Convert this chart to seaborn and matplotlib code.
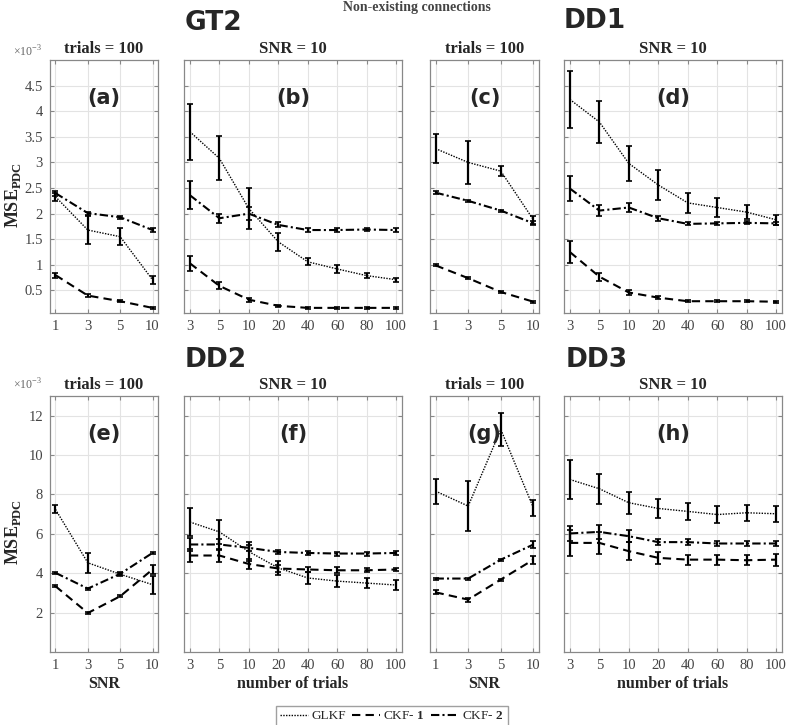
import numpy as np
import pandas as pd
import matplotlib
matplotlib.use("Agg")
import matplotlib.pyplot as plt
import seaborn as sns
from matplotlib.lines import Line2D

snr_levels = ["1", "3", "5", "10"]
trial_levels = ["3", "5", "10", "20", "40", "60", "80", "100"]
methods = ["GLKF", "CKF-1", "CKF-2"]

# rows: GLKF, CKF-1, CKF-2 ; values in units of 1e-3
# GT2
a_mean = [[2.33, 1.68, 1.55, 0.71], [0.80, 0.40, 0.29, 0.16], [2.40, 2.01, 1.93, 1.68]]
a_err = [[0.08, 0.28, 0.17, 0.08], [0.05, 0.03, 0.02, 0.02], [0.05, 0.03, 0.03, 0.03]]
b_mean = [[3.60, 3.08, 2.10, 1.45, 1.06, 0.92, 0.79, 0.71],
          [1.03, 0.59, 0.32, 0.20, 0.16, 0.16, 0.16, 0.16],
          [2.36, 1.91, 2.00, 1.78, 1.68, 1.68, 1.69, 1.68]]
b_err = [[0.55, 0.43, 0.40, 0.18, 0.07, 0.07, 0.05, 0.04],
         [0.15, 0.07, 0.04, 0.02, 0.02, 0.02, 0.02, 0.02],
         [0.27, 0.09, 0.12, 0.05, 0.03, 0.03, 0.03, 0.03]]
# DD1
c_mean = [[3.27, 3.00, 2.83, 1.88], [0.99, 0.74, 0.47, 0.28], [2.41, 2.25, 2.06, 1.81]]
c_err = [[0.29, 0.42, 0.10, 0.08], [0.02, 0.02, 0.02, 0.02], [0.03, 0.02, 0.02, 0.04]]
d_mean = [[4.23, 3.79, 2.98, 2.56, 2.21, 2.12, 2.03, 1.88],
          [1.25, 0.77, 0.46, 0.36, 0.29, 0.29, 0.29, 0.28],
          [2.49, 2.06, 2.12, 1.91, 1.80, 1.81, 1.82, 1.81]]
d_err = [[0.56, 0.41, 0.34, 0.29, 0.20, 0.18, 0.13, 0.10],
         [0.22, 0.08, 0.04, 0.03, 0.02, 0.02, 0.02, 0.02],
         [0.25, 0.10, 0.08, 0.05, 0.03, 0.03, 0.03, 0.03]]
# DD2
e_mean = [[7.24, 4.53, 3.95, 3.42], [3.34, 1.98, 2.83, 4.19], [4.02, 3.22, 3.97, 5.03]]
e_err = [[0.20, 0.50, 0.05, 0.45], [0.05, 0.05, 0.05, 0.25], [0.05, 0.05, 0.10, 0.05]]
f_mean = [[6.60, 6.10, 5.10, 4.27, 3.76, 3.60, 3.50, 3.40],
          [4.90, 4.90, 4.47, 4.24, 4.19, 4.15, 4.15, 4.19],
          [5.46, 5.46, 5.29, 5.08, 5.03, 5.00, 5.00, 5.03]]
f_err = [[0.70, 0.60, 0.50, 0.35, 0.30, 0.30, 0.25, 0.25],
         [0.35, 0.35, 0.25, 0.20, 0.15, 0.15, 0.10, 0.10],
         [0.35, 0.30, 0.15, 0.10, 0.10, 0.10, 0.10, 0.10]]
# DD3
g_mean = [[8.17, 7.41, 11.30, 7.32], [3.03, 2.66, 3.68, 4.69], [3.73, 3.73, 4.69, 5.46]]
g_err = [[0.63, 1.26, 0.85, 0.40], [0.10, 0.10, 0.05, 0.20], [0.05, 0.05, 0.05, 0.20]]
h_mean = [[8.76, 8.29, 7.58, 7.29, 7.14, 6.98, 7.07, 7.02],
          [5.54, 5.54, 5.12, 4.78, 4.69, 4.69, 4.66, 4.69],
          [6.02, 6.10, 5.88, 5.58, 5.58, 5.51, 5.51, 5.51]]
h_err = [[0.97, 0.75, 0.55, 0.50, 0.45, 0.45, 0.40, 0.40],
         [0.65, 0.55, 0.45, 0.30, 0.25, 0.25, 0.25, 0.30],
         [0.40, 0.35, 0.30, 0.15, 0.15, 0.15, 0.15, 0.15]]

line_styles = {"GLKF": ((0, (1, 1)), 1.0),
               "CKF-1": ((0, (4, 2.5)), 1.5),
               "CKF-2": ((0, (4, 1.5, 1, 1.5)), 1.5)}

sns.set_style("ticks")
plt.rcParams["font.family"] = ["Liberation Serif", "DejaVu Serif"]
plt.rcParams["mathtext.fontset"] = "custom"
plt.rcParams["mathtext.rm"] = "Liberation Serif"
plt.rcParams["mathtext.bf"] = "Liberation Serif:bold"

W, H = 787, 725
fig = plt.figure(figsize=(W / 100, H / 100), dpi=100)


def box(x0, x1, y0, y1):
    return [x0 / W, 1 - y1 / H, (x1 - x0) / W, (y1 - y0) / H]


def draw_panel(rect, levels, means, errs, ylim, yticks, show_y, letter, title, xlabel):
    ax = fig.add_axes(rect)
    x = np.arange(1, len(levels) + 1)
    for m, name in enumerate(methods):
        ls, lw = line_styles[name]
        df = pd.DataFrame({"x": x, "y": means[m]})
        sns.lineplot(data=df, x="x", y="y", ax=ax, color="k", linestyle=ls, lw=lw)
        ax.errorbar(x, means[m], yerr=errs[m], fmt="none", ecolor="k",
                    elinewidth=1.6, capsize=2, capthick=1.2)
    pad = 0.17 if len(levels) == 4 else 0.2
    ax.set_xlim(1 - pad, len(levels) + pad)
    ax.set_ylim(*ylim)
    ax.set_xticks(x)
    ax.set_xticklabels(levels)
    ax.set_yticks(yticks)
    if show_y:
        ax.set_yticklabels([f"{t:g}" for t in yticks])
    else:
        ax.set_yticklabels([])
    ax.grid(True, color="#e3e3e3", lw=0.8)
    ax.set_axisbelow(True)
    for s in ax.spines.values():
        s.set_color("#888888")
        s.set_linewidth(0.9)
    ax.tick_params(direction="in", top=True, right=True, length=3,
                   color="#888888", labelcolor="#444444", labelsize=10.5, pad=5)
    ax.set_xlabel(xlabel, fontsize=11.5, fontweight="bold", labelpad=3)
    ax.set_ylabel("")
    ax.set_title(title, fontsize=12, fontweight="bold", pad=5)
    ax.text(0.5, 0.85, letter, transform=ax.transAxes, ha="center", va="center",
            fontsize=15, fontweight="bold", family="DejaVu Sans")
    return ax


cols = [(50, 158), (184, 402), (430, 539), (564, 782)]
top_rows = (60, 313)
bot_rows = (396, 652)
top_lim, top_ticks = (0.06, 5.0), [0.5, 1, 1.5, 2, 2.5, 3, 3.5, 4, 4.5]
bot_lim, bot_ticks = (0, 13), [2, 4, 6, 8, 10, 12]

panels_top = [(snr_levels, a_mean, a_err, "(a)", "trials = 100"),
              (trial_levels, b_mean, b_err, "(b)", "SNR = 10"),
              (snr_levels, c_mean, c_err, "(c)", "trials = 100"),
              (trial_levels, d_mean, d_err, "(d)", "SNR = 10")]
panels_bot = [(snr_levels, e_mean, e_err, "(e)", "trials = 100"),
              (trial_levels, f_mean, f_err, "(f)", "SNR = 10"),
              (snr_levels, g_mean, g_err, "(g)", "trials = 100"),
              (trial_levels, h_mean, h_err, "(h)", "SNR = 10")]

for i, (lv, mn, er, let, ttl) in enumerate(panels_top):
    draw_panel(box(*cols[i], *top_rows), lv, mn, er, top_lim, top_ticks,
               i == 0, let, ttl, "")
for i, (lv, mn, er, let, ttl) in enumerate(panels_bot):
    xl = "SNR" if len(lv) == 4 else "number of trials"
    draw_panel(box(*cols[i], *bot_rows), lv, mn, er, bot_lim, bot_ticks,
               i == 0, let, ttl, xl)


def ftext(px, py, s, **kw):
    fig.text(px / W, 1 - py / H, s, **kw)


big = dict(fontsize=19, fontweight="bold", family="DejaVu Sans", ha="center", va="center")
ftext(213, 23, "GT2", **big)
ftext(595, 21, "DD1", **big)
ftext(216, 360, "DD2", **big)
ftext(597, 360, "DD3", **big)
ftext(417, 8, "Non-existing connections", fontsize=10, fontweight="bold",
      color="#444444", ha="center", va="center")
for yy in (52, 385):
    ftext(27, yy, r"$\times10^{-3}$", fontsize=8.5, color="#666666", ha="center", va="center")
for yy in (195, 532):
    ftext(13, yy, r"$\mathbf{MSE}_{\mathbf{PDC}}$", fontsize=13, rotation=90,
          ha="center", va="center")

handles = [Line2D([], [], color="k", linestyle=line_styles[n][0], lw=line_styles[n][1])
           for n in methods]
labels = ["GLKF", r"CKF- $\mathbf{1}$", r"CKF- $\mathbf{2}$"]
leg = fig.legend(handles, labels, loc="center", bbox_to_anchor=(392 / W, 1 - 716 / H),
                 ncol=3, fontsize=9.5, frameon=True, fancybox=False, handlelength=2.1,
                 handletextpad=0.25, columnspacing=0.5, borderpad=0.3)
leg.get_frame().set_edgecolor("#888888")
leg.get_frame().set_linewidth(1.0)

fig.savefig("out.png", dpi=100)
